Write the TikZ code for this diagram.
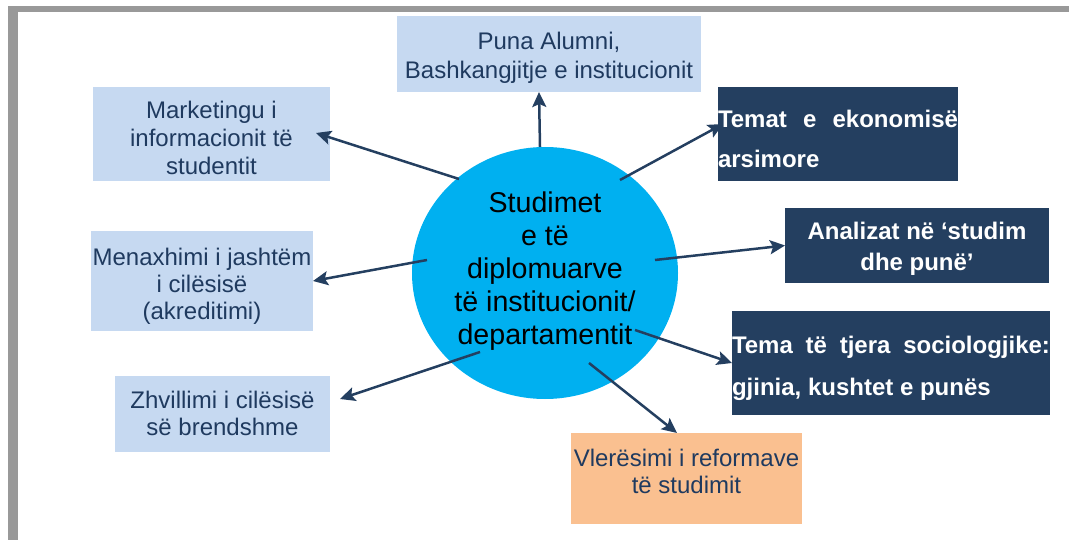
\documentclass[tikz,border=0pt]{standalone}
\usepackage{fontspec}
\setmainfont{Liberation Sans}
\usetikzlibrary{arrows.meta,calc,shapes.geometric}
\definecolor{navy}{HTML}{243F60}
\definecolor{lblue}{HTML}{C6D9F1}
\definecolor{lorange}{HTML}{FAC090}
\definecolor{cyanc}{HTML}{00B0F0}
\definecolor{frameg}{HTML}{999999}
\definecolor{btext}{HTML}{1F3A5F}
% #1 = distance (pt) from node centre up to the first baseline
\newcommand\boxlines[3]{\raisebox{#1}[0pt][0pt]{\begin{tabular}[t]{@{}#2@{}}#3\end{tabular}}}
\begin{document}
\begin{tikzpicture}[x=1pt,y=-1pt,
  box/.style={rectangle, inner sep=0pt, outer sep=0pt, draw=none},
  lightbox/.style={box, fill=lblue, text=btext},
  darkbox/.style={box, fill=navy, text=white},
  conn/.style={draw=navy, line width=2.5pt, -{Stealth[length=15pt,width=14pt,inset=3pt]}}]
\useasboundingbox (0,0) rectangle (1069,540);
% frame
\fill[frameg] (8,6) rectangle (1069,12);
\fill[frameg] (8,6) rectangle (18,540);
% centre
\node[ellipse, fill=cyanc, inner sep=0pt, minimum width=266pt, minimum height=252pt,
  font=\fontsize{28.6}{33.25}\selectfont] (c) at (545,273)
  {\boxlines{61pt}{c}{Studimet\\e të\\diplomuarve\\të institucionit/\\departamentit}};
% light boxes
\node[lightbox, minimum width=304pt, minimum height=76pt, font=\fontsize{24}{29}\selectfont]
  (puna) at (549,54) {\boxlines{4.7pt}{c}{Puna Alumni,\\Bashkangjitje e institucionit}};
\node[lightbox, minimum width=237pt, minimum height=94pt, font=\fontsize{24}{28}\selectfont]
  (mk) at (211.5,134) {\boxlines{15pt}{c}{Marketingu i\\informacionit të\\studentit}};
\node[lightbox, minimum width=222pt, minimum height=100pt, font=\fontsize{24}{27.5}\selectfont]
  (men) at (202,281) {\boxlines{16pt}{c}{Menaxhimi i jashtëm\\i cilësisë\\ (akreditimi)}};
\node[lightbox, minimum width=215pt, minimum height=76pt, font=\fontsize{24}{27}\selectfont]
  (zh) at (222.5,414) {\boxlines{6pt}{c}{Zhvillimi i cilësisë\\së brendshme}};
\node[box, fill=lorange, text=btext, minimum width=231pt, minimum height=91pt, font=\fontsize{24}{27}\selectfont]
  (vl) at (686.5,478.5) {\boxlines{12.5pt}{c}{Vlerësimi i reformave\\të studimit}};
% dark boxes
\node[darkbox, minimum width=240pt, minimum height=94pt, font=\bfseries\fontsize{24}{40}\selectfont]
  (tem) at (838,134) {\boxlines{6pt}{l}{\makebox[240pt][s]{Temat e ekonomisë}\\arsimore}};
\node[darkbox, minimum width=264pt, minimum height=75pt, font=\bfseries\fontsize{24}{31}\selectfont]
  (an) at (917,245.5) {\boxlines{5.5pt}{c}{Analizat në ‘studim\\dhe punë’}};
\node[darkbox, minimum width=318pt, minimum height=104pt, font=\bfseries\fontsize{24}{42}\selectfont]
  (tt) at (891,363) {\boxlines{10pt}{l}{\makebox[318pt][s]{Tema të tjera sociologjike:}\\gjinia, kushtet e punës}};
% connectors
\draw[conn] ($(c.north)+(-5,0)$) -- ($(puna.south)+(-10,0)$);
\draw[conn] ($(c)+(-86,-94)$) -- ($(mk.east)+(-14,-1)$);
\draw[conn] ($(c)+(75,-93)$) -- ($(tem.west)+(5,-10)$);
\draw[conn] ($(c)+(110,-13)$) -- (an.west);
\draw[conn] ($(c)+(-118,-13)$) -- (men.east);
\draw[conn] ($(c)+(90,57)$) -- (tt.west);
\draw[conn] ($(c)+(-65,79)$) -- ($(zh.east)+(10,-15)$);
\draw[conn] ($(c)+(44,90)$) -- ($(vl.north)+(-9.5,0)$);
\end{tikzpicture}
\end{document}
